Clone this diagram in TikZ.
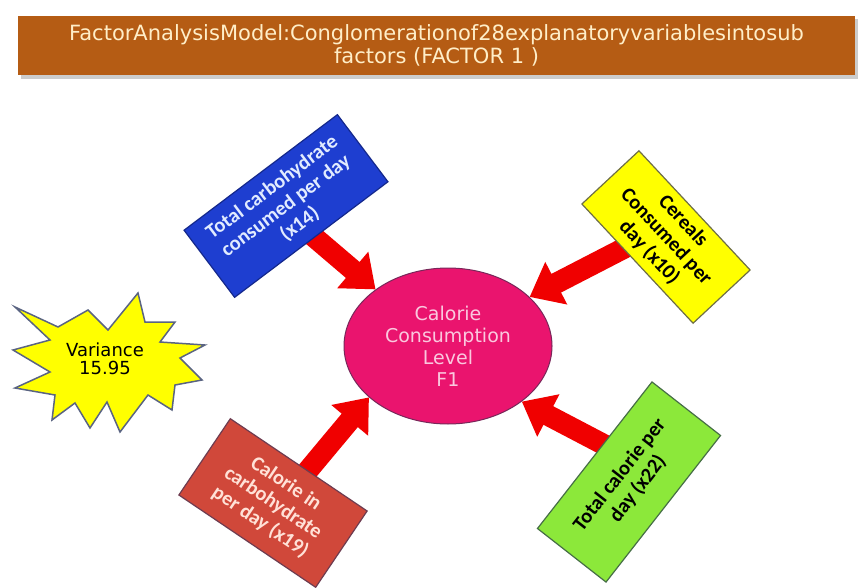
\documentclass[tikz,border=0pt]{standalone}
\usepackage{fontspec}
\setmainfont{DejaVu Sans}
\newfontfamily\boxfont{Carlito}
\usetikzlibrary{shapes.geometric,arrows.meta}

\definecolor{titlebrown}{RGB}{181,92,20}
\definecolor{titletext}{RGB}{255,238,200}
\definecolor{ellfill}{RGB}{234,20,110}
\definecolor{elldraw}{RGB}{120,40,90}
\definecolor{elltext}{RGB}{250,200,222}
\definecolor{boxblue}{RGB}{30,62,208}
\definecolor{blueedge}{RGB}{20,40,140}
\definecolor{bluetext}{RGB}{225,235,255}
\definecolor{boxyellow}{RGB}{255,255,0}
\definecolor{yellowedge}{RGB}{110,110,70}
\definecolor{boxred}{RGB}{208,72,58}
\definecolor{rededge}{RGB}{110,60,80}
\definecolor{redtext}{RGB}{255,225,215}
\definecolor{boxgreen}{RGB}{140,232,58}
\definecolor{greenedge}{RGB}{70,110,70}
\definecolor{arrowred}{RGB}{240,0,0}
\definecolor{staredge}{RGB}{90,100,130}

\pgfdeclarelayer{back}
\pgfdeclarelayer{arrowlayer}
\pgfsetlayers{back,arrowlayer,main}

\tikzset{
  titlebar/.style={fill=titlebrown, text=titletext, align=center,
    inner sep=0pt, font=\fontsize{21}{23}\selectfont},
  factorbox/.style={rectangle, line width=1.2pt, align=center, inner sep=0pt,
    font=\boxfont\bfseries\fontsize{20.5}{23}\selectfont},
  fatarrow/.style={draw=arrowred, line width=21pt, line cap=butt,
    -{Triangle[width=46pt,length=30pt]}},
}

\begin{document}
\begin{tikzpicture}[x=1pt,y=-1pt]
\useasboundingbox (0,0) rectangle (864,588);
\begin{pgfonlayer}{back}
  \fill[white] (0,0) rectangle (864,588);
  % soft shadow under the title bar
  \fill[black,opacity=.2] (21,19) rectangle (858,79);
\end{pgfonlayer}

% title bar
\node[titlebar, minimum width=837pt, minimum height=59pt] (title) at (436.5,45.5)
  {FactorAnalysisModel:Conglomerationof28explanatoryvariablesintosub\\factors (FACTOR 1 )};

% central factor
\node[ellipse, fill=ellfill, draw=elldraw, line width=1pt,
      minimum width=208pt, minimum height=156pt, inner sep=0pt,
      text=elltext, align=center, font=\fontsize{19}{22}\selectfont]
  (ell) at (448,346) {Calorie\\Consumption\\Level\\F1};

% explanatory variables
\node[factorbox, fill=boxblue, draw=blueedge, text=bluetext, rotate=37,
      minimum width=192pt, minimum height=84pt] (carb) at (286,206)
  {Total carbohydrate\\consumed per day\\(x14)};
\node[factorbox, fill=boxyellow, draw=yellowedge, text=black, rotate=-47,
      minimum width=163pt, minimum height=78pt] (cereal) at (666,237)
  {Cereals\\Consumed per\\day (x10)};
\node[factorbox, fill=boxred, draw=rededge, text=redtext, rotate=-34,
      minimum width=165pt, minimum height=92pt] (calcarb) at (273,503)
  {Calorie in\\carbohydrate\\per day (x19)};
\node[factorbox, fill=boxgreen, draw=greenedge, text=black, rotate=52,
      minimum width=186pt, minimum height=87pt] (totcal) at (629,482)
  {Total calorie per\\day (x22)};

% variance burst
\fill[boxyellow, draw=staredge, line width=1.5pt, line join=miter]
  (15,307) -- (58,327) -- (88,310) -- (108,330) -- (138,293) -- (145,322)
  -- (175,322) -- (160,342) -- (205,345) -- (180,358) -- (202,380) -- (175,385)
  -- (172,410) -- (148,395) -- (120,432) -- (107,402) -- (90,428) -- (75,403)
  -- (52,420) -- (55,395) -- (15,388) -- (50,372) -- (13,350) -- (50,340) -- cycle;
\node[align=center, font=\fontsize{18}{18}\selectfont, inner sep=0pt]
  (var) at (105,359) {Variance\\15.95};

% arrows into the factor
\coordinate (carbtail) at (300,225);
\coordinate (cerealtail) at (640,240);
\coordinate (calcarbtail) at (300,480);
\coordinate (totcaltail) at (618,452);
\begin{pgfonlayer}{arrowlayer}
  \draw[fatarrow] (carbtail) -- (ell.142);
  \draw[fatarrow] (cerealtail) -- (ell.31);
  \draw[fatarrow] (calcarbtail) -- (ell.213);
  \draw[fatarrow] (totcaltail) -- (ell.-37);
\end{pgfonlayer}
\end{tikzpicture}
\end{document}
